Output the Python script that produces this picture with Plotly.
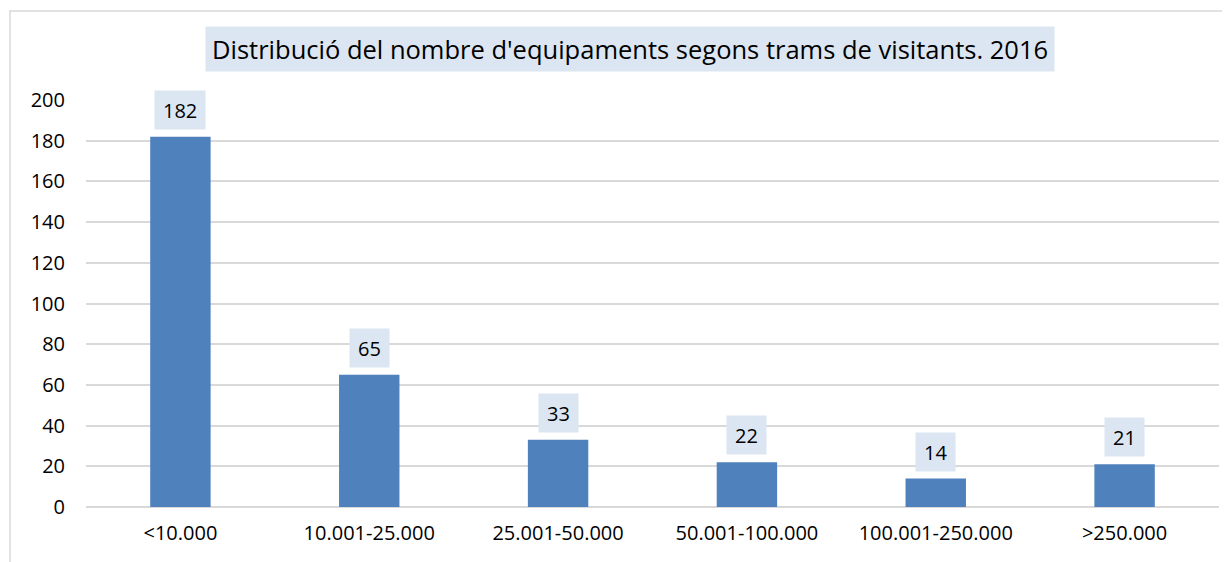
import plotly.graph_objects as go

categories = ["<10.000", "10.001-25.000", "25.001-50.000",
              "50.001-100.000", "100.001-250.000", ">250.000"]
values = [182, 65, 33, 22, 14, 21]
y_ticks = [0, 20, 40, 60, 80, 100, 120, 140, 160, 180, 200]
title_text = "Distribució del nombre d'equipaments segons trams de visitants. 2016"

BAR = "#4F81BD"
BOX = "#DCE6F2"
GRID = "#D9D9D9"
FONT = "Open Sans"

fig = go.Figure()
fig.add_bar(x=categories, y=values, width=0.32, marker_color=BAR,
            marker_line_width=0, hoverinfo="skip")

# data labels in light blue boxes
for c, v in zip(categories, values):
    fig.add_annotation(x=c, y=v, text=str(v), showarrow=False,
                       yanchor="bottom", yshift=7,
                       font=dict(family=FONT, size=20, color="#000000"),
                       bgcolor=BOX, borderpad=8, height=22)

# title box
fig.add_annotation(xref="paper", yref="paper", x=0.4797, y=1.1254,
                   text=title_text, showarrow=False,
                   xanchor="center", yanchor="middle",
                   font=dict(family=FONT, size=25.5, color="#000000"),
                   bgcolor=BOX, borderpad=6, height=32)

# outer chart border
fig.add_shape(type="rect", xref="paper", yref="paper",
              x0=-0.0671, x1=1.05, y0=-0.3, y1=1.2188,
              line=dict(color=GRID, width=1.5), fillcolor="rgba(0,0,0,0)",
              layer="below")

# page body adds an 8px margin, so the figure is a little smaller
fig.update_layout(
    width=1222, height=554,
    paper_bgcolor="white", plot_bgcolor="white",
    margin=dict(l=78, r=11, t=92, b=55),
    showlegend=False,
    font=dict(family=FONT, size=20, color="#000000"),
    xaxis=dict(showgrid=False, showline=False, ticks="",
               tickfont=dict(size=20), ticklabelstandoff=12,
               range=[-0.5, 5.5]),
    yaxis=dict(range=[0, 200], tickvals=y_ticks, gridcolor=GRID,
               gridwidth=1.5, zeroline=True, zerolinecolor=GRID,
               zerolinewidth=1.5, showline=False, ticks="",
               tickfont=dict(size=20), ticklabelstandoff=20),
)

fig.write_html("out.html")
